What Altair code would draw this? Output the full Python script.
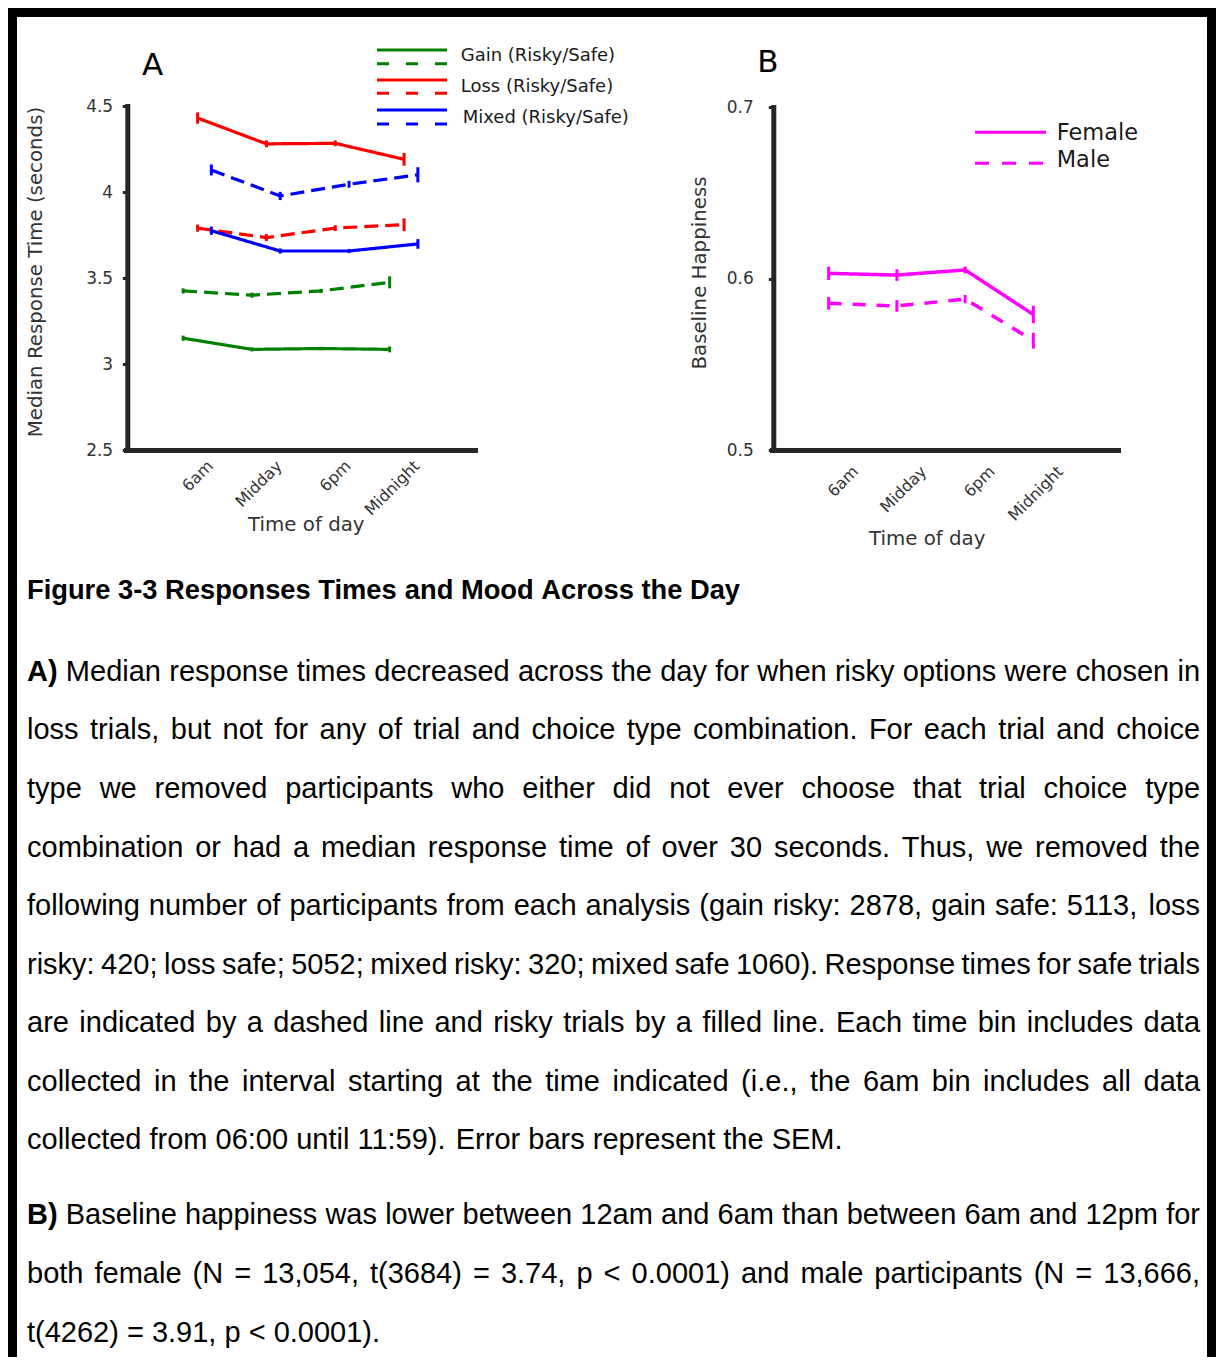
import json
import pandas as pd
import altair as alt

# ----------------------------- data -----------------------------
TIMES = ["6am", "Midday", "6pm", "Midnight"]

GAIN_RISKY = [3.150, 3.085, 3.090, 3.085]
GAIN_RISKY_SEM = [0.015, 0.012, 0.010, 0.017]
GAIN_SAFE = [3.425, 3.400, 3.425, 3.475]
GAIN_SAFE_SEM = [0.015, 0.015, 0.012, 0.035]
LOSS_RISKY = [4.430, 4.280, 4.283, 4.190]
LOSS_RISKY_SEM = [0.033, 0.020, 0.017, 0.037]
LOSS_SAFE = [3.790, 3.735, 3.790, 3.810]
LOSS_SAFE_SEM = [0.021, 0.020, 0.017, 0.037]
MIXED_RISKY = [3.775, 3.657, 3.657, 3.698]
MIXED_RISKY_SEM = [0.024, 0.015, 0.012, 0.028]
MIXED_SAFE = [4.128, 3.977, 4.045, 4.100]
MIXED_SAFE_SEM = [0.032, 0.024, 0.020, 0.044]

FEMALE = [0.6030, 0.6020, 0.6050, 0.5790]
FEMALE_SEM = [0.0039, 0.0034, 0.0020, 0.0051]
MALE = [0.5855, 0.5840, 0.5880, 0.5637]
MALE_SEM = [0.0037, 0.0034, 0.0024, 0.0046]

TRIALS = ["Gain", "Loss", "Mixed"]
CHOICES = ["Risky", "Safe"]
SEXES = ["Female", "Male"]

A_TICKS = [2.5, 3, 3.5, 4, 4.5]
B_TICKS = [0.5, 0.6, 0.7]

PANEL_A = "A"
PANEL_B = "B"
A_YTITLE = "Median Response Time (seconds)"
B_YTITLE = "Baseline Happiness"
XTITLE = "Time of day"
A_LEGEND = ["Gain (Risky/Safe)", "Loss (Risky/Safe)", "Mixed (Risky/Safe)"]
B_LEGEND = ["Female", "Male"]

FIG_TITLE = "Figure 3-3 Responses Times and Mood Across the Day"
PARA_A = [
    "A) Median response times decreased across the day for when risky options were chosen in",
    "loss trials, but not for any of trial and choice type combination. For each trial and choice",
    "type we removed participants who either did not ever choose that trial choice type",
    "combination or had a median response time of over 30 seconds. Thus, we removed the",
    "following number of participants from each analysis (gain risky: 2878, gain safe: 5113, loss",
    "risky: 420; loss safe; 5052; mixed risky: 320; mixed safe 1060). Response times for safe trials",
    "are indicated by a dashed line and risky trials by a filled line. Each time bin includes data",
    "collected in the interval starting at the time indicated (i.e., the 6am bin includes all data",
    "collected from 06:00 until 11:59). Error bars represent the SEM.",
]
PARA_B = [
    "B) Baseline happiness was lower between 12am and 6am than between 6am and 12pm for",
    "both female (N = 13,054, t(3684) = 3.74, p < 0.0001) and male participants (N = 13,666,",
    "t(4262) = 3.91, p < 0.0001).",
]

A_SERIES = {
    ("Gain", "Risky"): (GAIN_RISKY, GAIN_RISKY_SEM),
    ("Gain", "Safe"): (GAIN_SAFE, GAIN_SAFE_SEM),
    ("Loss", "Risky"): (LOSS_RISKY, LOSS_RISKY_SEM),
    ("Loss", "Safe"): (LOSS_SAFE, LOSS_SAFE_SEM),
    ("Mixed", "Risky"): (MIXED_RISKY, MIXED_RISKY_SEM),
    ("Mixed", "Safe"): (MIXED_SAFE, MIXED_SAFE_SEM),
}
B_SERIES = {"Female": (FEMALE, FEMALE_SEM), "Male": (MALE, MALE_SEM)}

# ----------------------------- style / layout -----------------------------
W, H = 1208, 1349
M = 8  # page margin


def px(v):
    return v - M


A_COLORS = ["#008000", "#ff0000", "#0000ff"]
B_COLOR = "#ff00ff"
A_DODGE = {"Gain": 0.0, "Loss": 0.21, "Mixed": 0.41}
X_DOMAIN = [0.17, 5.24]
LABEL_SHIFT = 0.39
AXIS_COLOR = "#262626"
TEXT_COLOR = "#333333"
X_AXIS_Y = 450

# ----------------------------- frames -----------------------------
rows = []
for (trial, choice), (vals, sems) in A_SERIES.items():
    for i, (t, v, s) in enumerate(zip(TIMES, vals, sems)):
        rows.append(dict(time=t, trial=trial, choice=choice, series=f"{trial} {choice}",
                         xpos=i + 1 + A_DODGE[trial], val=v, lo=v - s, hi=v + s))
df_a = pd.DataFrame(rows)

rows = []
for sex, (vals, sems) in B_SERIES.items():
    for i, (t, v, s) in enumerate(zip(TIMES, vals, sems)):
        rows.append(dict(time=t, sex=sex, xpos=i + 1, val=v, lo=v - s, hi=v + s))
df_b = pd.DataFrame(rows)

x_label_expr = f"{json.dumps(TIMES)}[round(datum.value - {LABEL_SHIFT}) - 1]"
x_tick_vals = [i + 1 + LABEL_SHIFT for i in range(len(TIMES))]


def x_axis(title_x, title_y, pad):
    return alt.Axis(orient="bottom", offset=px(X_AXIS_Y) - H, values=x_tick_vals,
                    labelExpr=x_label_expr, labelAngle=315, labelAlign="right",
                    labelBaseline="middle", labelPadding=pad, labelFontSize=16, ticks=False,
                    labelFlush=False, labelOverlap=False, title=XTITLE,
                    titleX=title_x, titleY=title_y, titleAlign="center",
                    titleBaseline="alphabetic", titleAngle=0)


def y_axis(axis_x, values, title, title_x, title_y, pad, **kw):
    return alt.Axis(orient="left", offset=-px(axis_x), values=values, title=title,
                    titleX=px(title_x) - px(axis_x), titleY=px(title_y), titleAngle=270,
                    titleAlign="center", titleBaseline="middle", labelPadding=pad,
                    labelFlush=False, labelOverlap=False, **kw)


# ---------- panel A ----------
xs_a = alt.Scale(domain=X_DOMAIN, range=[px(126), px(475)], nice=False, zero=False)
ys_a = alt.Scale(domain=[2.5, 4.5], range=[px(450), px(106)], nice=False, zero=False)
xax_a = x_axis(px(305.8), 530 - X_AXIS_Y, 13)
yax_a = y_axis(127.3, A_TICKS, A_YTITLE, 35.8, 271.6, 9.6, labelExpr="'' + datum.value")
col_a = alt.Color("trial:N", scale=alt.Scale(domain=TRIALS, range=A_COLORS), legend=None)

lines_a = alt.Chart(df_a).mark_line(strokeWidth=3.2).encode(
    x=alt.X("xpos:Q", scale=xs_a, axis=xax_a),
    y=alt.Y("val:Q", scale=ys_a, axis=yax_a),
    color=col_a,
    strokeDash=alt.StrokeDash("choice:N", scale=alt.Scale(domain=CHOICES, range=[[1, 0], [14, 7]]),
                              legend=None),
    detail="series:N",
)
err_a = alt.Chart(df_a).mark_rule(strokeWidth=3).encode(
    x=alt.X("xpos:Q", scale=xs_a, axis=xax_a),
    y=alt.Y("lo:Q", scale=ys_a, axis=yax_a),
    y2="hi:Q",
    color=col_a,
)
panel_a = alt.layer(lines_a, err_a)

# ---------- panel B ----------
xs_b = alt.Scale(domain=X_DOMAIN, range=[px(772), px(1118)], nice=False, zero=False)
ys_b = alt.Scale(domain=[0.5, 0.7], range=[px(450), px(107)], nice=False, zero=False)
xax_b = x_axis(px(926.7), 544 - X_AXIS_Y, 18.5)
yax_b = y_axis(773.3, B_TICKS, B_YTITLE, 699, 272.5, 15, format=".1f")

lines_b = alt.Chart(df_b).mark_line(strokeWidth=3.5, color=B_COLOR).encode(
    x=alt.X("xpos:Q", scale=xs_b, axis=xax_b),
    y=alt.Y("val:Q", scale=ys_b, axis=yax_b),
    strokeDash=alt.StrokeDash("sex:N", scale=alt.Scale(domain=SEXES, range=[[1, 0], [13, 11]]),
                              legend=None),
)
err_b = alt.Chart(df_b).mark_rule(strokeWidth=3, color=B_COLOR).encode(
    x=alt.X("xpos:Q", scale=xs_b, axis=xax_b),
    y=alt.Y("lo:Q", scale=ys_b, axis=yax_b),
    y2="hi:Q",
)
panel_b = alt.layer(lines_b, err_b)


# ---------- decorations (pixel-positioned) ----------
def pix_x(f):
    return alt.X(f"{f}:Q", scale=None, axis=None)


def pix_y(f):
    return alt.Y(f"{f}:Q", scale=None, axis=None)


border_df = pd.DataFrame([
    dict(xa=0, xb=W, ya=0, yb=9),
    dict(xa=0, xb=9, ya=0, yb=H),
    dict(xa=W - 9, xb=W, ya=0, yb=H),
])
border = alt.Chart(border_df).mark_rect(color="black").encode(
    x=pix_x("xa"), x2="xb:Q", y=pix_y("ya"), y2="yb:Q")

leg_a_solid = pd.DataFrame(dict(xa=[px(377)] * 3, xb=[px(447)] * 3,
                                y=[px(50), px(80), px(110)], col=A_COLORS))
leg_a_dash = pd.DataFrame(dict(xa=[px(377)] * 3, xb=[px(447)] * 3,
                               y=[px(63.7), px(93.3), px(124)], col=A_COLORS))
leg_b_solid = pd.DataFrame(dict(xa=[px(975)], xb=[px(1046)], y=[px(132.3)], col=[B_COLOR]))
leg_b_dash = pd.DataFrame(dict(xa=[px(975)], xb=[px(1046)], y=[px(163.3)], col=[B_COLOR]))


def leg_rule(df, **mk):
    return alt.Chart(df).mark_rule(strokeWidth=3, **mk).encode(
        x=pix_x("xa"), x2="xb:Q", y=pix_y("y"), color=alt.Color("col:N", scale=None, legend=None))


legend_rules = [
    leg_rule(leg_a_solid),
    leg_rule(leg_a_dash, strokeDash=[12, 17]),
    leg_rule(leg_b_solid),
    leg_rule(leg_b_dash, strokeDash=[14, 13]),
]

panel_letters = pd.DataFrame(dict(t=[PANEL_A, PANEL_B], x=[px(152.5), px(768)], y=[px(75), px(71.7)]))
letters = alt.Chart(panel_letters).mark_text(
    align="center", baseline="alphabetic", font="DejaVu Sans", fontSize=31, color="black"
).encode(x=pix_x("x"), y=pix_y("y"), text="t:N")

leg_labels = pd.DataFrame(dict(
    t=A_LEGEND + B_LEGEND,
    x=[px(460.7), px(460.7), px(462.7), px(1056.7), px(1056.7)],
    y=[px(56), px(87.3), px(118.3), px(132.7), px(160)],
    fs=[18, 18, 18, 22.5, 22.5],
))
leg_text = alt.Chart(leg_labels).mark_text(
    align="left", baseline="middle", font="DejaVu Sans", color="#1a1a1a"
).encode(x=pix_x("x"), y=pix_y("y"), text="t:N",
         size=alt.Size("fs:Q", scale=None, legend=None))

# ---------- caption text (word-placed to emulate justification) ----------
REG = {' ': 278, '(': 333, ')': 333, ',': 278, '-': 333, '.': 278, '/': 278, ':': 278,
       ';': 278, '<': 584, '=': 584, "'": 191}
BOLD = {' ': 278, '(': 333, ')': 333, ',': 278, '-': 333, '.': 278, '/': 278, ':': 333,
        ';': 333, '<': 584, '=': 584}
for d in "0123456789":
    REG[d] = 556
    BOLD[d] = 556
UP_R = dict(zip("ABCDEFGHIJKLMNOPQRSTUVWXYZ",
                [667, 667, 722, 722, 667, 611, 778, 722, 278, 500, 667, 556, 833, 722, 778,
                 667, 778, 722, 667, 611, 722, 667, 944, 667, 667, 611]))
LO_R = dict(zip("abcdefghijklmnopqrstuvwxyz",
                [556, 556, 500, 556, 556, 278, 556, 556, 222, 222, 500, 222, 833, 556, 556,
                 556, 556, 333, 500, 278, 556, 500, 722, 500, 500, 500]))
UP_B = dict(zip("ABCDEFGHIJKLMNOPQRSTUVWXYZ",
                [722, 722, 722, 722, 667, 611, 778, 722, 278, 556, 722, 611, 833, 722, 778,
                 667, 778, 722, 667, 611, 722, 667, 944, 667, 667, 611]))
LO_B = dict(zip("abcdefghijklmnopqrstuvwxyz",
                [556, 611, 556, 611, 556, 333, 611, 611, 278, 278, 556, 278, 889, 611, 611,
                 611, 611, 389, 556, 333, 611, 556, 778, 556, 556, 500]))
REG.update(UP_R)
REG.update(LO_R)
BOLD.update(UP_B)
BOLD.update(LO_B)

TEXT_LEFT, TEXT_RIGHT = 27, 1200
BODY_FS = 29
TITLE_FS = 27.3


def wwidth(word, bold, fs):
    tab = BOLD if bold else REG
    return sum(tab.get(ch, 556) for ch in word) * fs / 1000.0


words = []


def place(line, base, fs, justify, bold_first=False, all_bold=False):
    parts = line.split(" ")
    bolds = [all_bold or (bold_first and i == 0) for i in range(len(parts))]
    widths = [wwidth(p, b, fs) for p, b in zip(parts, bolds)]
    if justify and len(parts) > 1:
        gap = (TEXT_RIGHT - TEXT_LEFT - sum(widths)) / (len(parts) - 1)
    else:
        gap = wwidth(" ", False, fs)
    x = TEXT_LEFT
    for p, b, wd in zip(parts, bolds, widths):
        words.append(dict(w=p, x=px(x), y=px(base), fs=fs, bold=b))
        x += wd + gap


place(FIG_TITLE, 599, TITLE_FS, False, all_bold=True)
A_BASES = [681, 739, 798, 857, 915, 974, 1032, 1091, 1149]
for i, (ln, b) in enumerate(zip(PARA_A, A_BASES)):
    place(ln, b, BODY_FS, i < len(PARA_A) - 1, bold_first=(i == 0))
B_BASES = [1224, 1283, 1342]
for i, (ln, b) in enumerate(zip(PARA_B, B_BASES)):
    place(ln, b, BODY_FS, i < len(PARA_B) - 1, bold_first=(i == 0))

words_df = pd.DataFrame(words)


def word_layer(bold):
    mk = dict(align="left", baseline="alphabetic", font="Liberation Sans", color="black")
    if bold:
        mk["fontWeight"] = "bold"
    return alt.Chart(words_df[words_df["bold"] == bold]).mark_text(**mk).encode(
        x=pix_x("x"), y=pix_y("y"), text="w:N",
        size=alt.Size("fs:Q", scale=None, legend=None))


caption = [word_layer(False), word_layer(True)]

# ----------------------------- assemble -----------------------------
chart = alt.layer(
    border, panel_a, panel_b, *legend_rules, letters, leg_text, *caption
).resolve_scale(
    x="independent", y="independent", color="independent",
    strokeDash="independent", size="independent"
).resolve_axis(
    x="independent", y="independent"
).properties(
    width=W, height=H, padding=0, autosize=alt.AutoSizeParams(type="none"),
    background="white"
).configure_view(
    stroke="transparent"
).configure_axis(
    grid=False,
    domainColor=AXIS_COLOR, domainWidth=5, domainCap="square",
    tickColor=AXIS_COLOR, tickWidth=3, tickSize=5,
    labelFont="DejaVu Sans", labelFontSize=17, labelColor=TEXT_COLOR,
    titleFont="DejaVu Sans", titleFontSize=19.8, titleFontWeight="normal", titleColor=TEXT_COLOR,
)

chart.save("out.html", embed_options={"renderer": "svg", "actions": False})
